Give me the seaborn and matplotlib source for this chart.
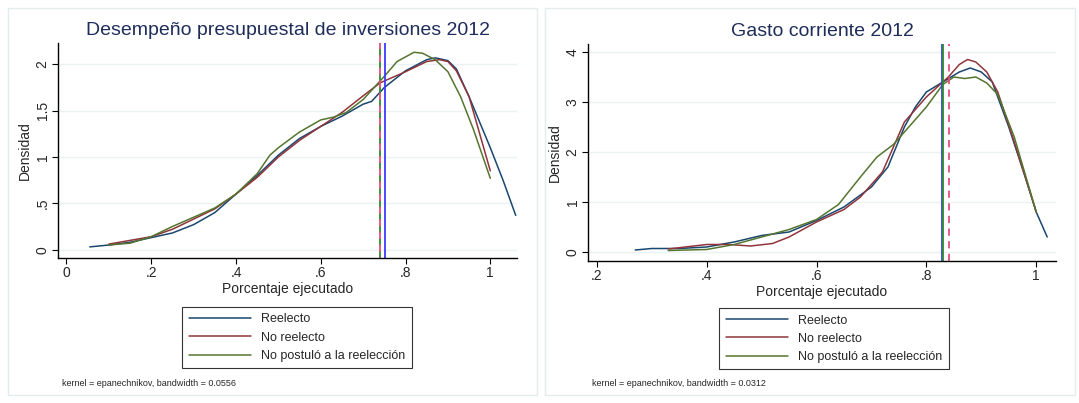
import matplotlib
matplotlib.use("Agg")
import matplotlib.pyplot as plt
import seaborn as sns
from matplotlib.patches import Rectangle

# left panel: inversiones
inv_reel_x = [.055, .1, .15, .2, .25, .3, .35, .4, .45, .5, .55, .6, .65, .7, .72, .75, .8, .85, .87, .9, .92, .95, 1.0, 1.03, 1.06]
inv_reel_y = [.03, .05, .08, .13, .18, .27, .4, .6, .8, 1.02, 1.2, 1.33, 1.44, 1.57, 1.6, 1.75, 1.93, 2.05, 2.07, 2.04, 1.95, 1.65, 1.1, .75, .37]
inv_no_x = [.1, .15, .2, .25, .3, .35, .4, .45, .5, .55, .6, .65, .7, .74, .8, .85, .88, .9, .92, .95, 1.0]
inv_no_y = [.06, .1, .14, .22, .33, .44, .6, .78, 1.0, 1.18, 1.33, 1.48, 1.66, 1.8, 1.92, 2.03, 2.05, 2.03, 1.93, 1.65, .85]
inv_np_x = [.1, .15, .2, .25, .3, .35, .4, .45, .48, .5, .55, .6, .63, .66, .7, .75, .78, .82, .84, .87, .9, .93, .96, 1.0]
inv_np_y = [.05, .07, .14, .25, .35, .45, .6, .82, 1.02, 1.1, 1.27, 1.4, 1.43, 1.48, 1.62, 1.87, 2.03, 2.13, 2.12, 2.05, 1.92, 1.65, 1.3, .77]
inv_means = {"reel": .752, "no": .740, "np": .740}

# right panel: gasto corriente
gc_reel_x = [.27, .3, .35, .4, .45, .5, .55, .6, .65, .7, .73, .76, .78, .8, .83, .86, .88, .9, .92, .95, .98, 1.0, 1.01, 1.02]
gc_reel_y = [.04, .07, .07, .1, .2, .33, .4, .63, .9, 1.3, 1.7, 2.5, 2.9, 3.2, 3.4, 3.6, 3.68, 3.6, 3.4, 2.5, 1.5, .8, .55, .3]
gc_no_x = [.33, .4, .44, .48, .52, .55, .6, .65, .68, .72, .76, .8, .84, .86, .875, .89, .91, .93, .96, 1.0]
gc_no_y = [.06, .15, .15, .12, .17, .3, .6, .85, 1.1, 1.6, 2.6, 3.1, 3.5, 3.75, 3.85, 3.8, 3.6, 3.2, 2.2, .8]
gc_np_x = [.33, .4, .45, .5, .55, .6, .64, .68, .71, .74, .76, .8, .83, .85, .87, .89, .91, .93, .96, 1.0]
gc_np_y = [.03, .05, .15, .3, .45, .65, .95, 1.5, 1.9, 2.15, 2.4, 2.9, 3.35, 3.5, 3.47, 3.5, 3.38, 3.15, 2.3, .8]
gc_means = {"reel": .829, "np": .831, "no": .841}

labels = ["Reelecto", "No reelecto", "No postuló a la reelección"]
colors = ["#1a476f", "#90353b", "#55752f"]

sns.set_style("white")
plt.rcParams["font.family"] = ["Liberation Sans", "DejaVu Sans"]

W, H = 1079, 403
fig = plt.figure(figsize=(W / 100, H / 100), dpi=100)

def frac(x0, y0, x1, y1):
    return [x0 / W, 1 - y1 / H, (x1 - x0) / W, (y1 - y0) / H]

# panel frames
for x0, x1 in [(8, 537), (545, 1075)]:
    fig.patches.append(Rectangle((x0 / W, 8 / H), (x1 - x0) / W, (H - 16) / H,
                                 transform=fig.transFigure, fill=False,
                                 edgecolor="#e4ecee", lw=1))

def panel(rect, series, title, xlim, ylim, xticks, xlabels, yticks, ylabels, vlines, legend_pos, note, note_pos):
    ax = fig.add_axes(frac(*rect))
    handles = []
    for (x, y), lab, c in zip(series, labels, colors):
        sns.lineplot(x=x, y=y, ax=ax, color=c, lw=1.1, label=lab, legend=False)
        handles.append(ax.lines[-1])
    for xv, c, ls in vlines:
        ax.axvline(xv, color=c, lw=1.3, ls=ls)
    ax.set_xlim(*xlim)
    ax.set_ylim(*ylim)
    ax.set_xticks(xticks)
    ax.set_xticklabels(xlabels, fontsize=10)
    ax.set_yticks(yticks)
    ax.set_yticklabels(ylabels, fontsize=10, rotation=90, va="center")
    for t in yticks:
        ax.axhline(t, color="#eaf2f3", lw=1, zorder=0)
    for s in ["top", "right"]:
        ax.spines[s].set_visible(False)
    for s in ["left", "bottom"]:
        ax.spines[s].set_color("black")
        ax.spines[s].set_linewidth(1)
    ax.tick_params(axis="both", length=4, color="black", direction="out", bottom=True, left=True, pad=2)
    ax.set_xlabel("Porcentaje ejecutado", fontsize=10, labelpad=1)
    ax.set_ylabel("Densidad", fontsize=10, labelpad=3)
    ax.set_title(title, fontsize=14, color="#1e2d5a", pad=6)
    leg = fig.legend(handles, labels, loc="upper left",
                     bbox_to_anchor=(legend_pos[0] / W, 1 - legend_pos[1] / H),
                     fontsize=9, frameon=True, fancybox=False, handlelength=5,
                     borderpad=0.5, labelspacing=0.5)
    leg.get_frame().set_edgecolor("black")
    leg.get_frame().set_linewidth(0.8)
    fig.text(note_pos[0] / W, 1 - note_pos[1] / H, note, fontsize=6.5, va="center")
    return ax

panel((58, 43, 517, 258),
      [(inv_reel_x, inv_reel_y), (inv_no_x, inv_no_y), (inv_np_x, inv_np_y)],
      "Desempeño presupuestal de inversiones 2012",
      (-0.02, 1.063), (-0.09, 2.23),
      [0, .2, .4, .6, .8, 1], ["0", ".2", ".4", ".6", ".8", "1"],
      [0, .5, 1, 1.5, 2], ["0", ".5", "1", "1.5", "2"],
      [(inv_means["reel"], "#3a3aff", "-"), (inv_means["no"], "#2e8b2e", (0, (4, 3))),
       (inv_means["np"], "#e0507a", (3.5, (4, 3)))],
      (176, 301), "kernel = epanechnikov, bandwidth = 0.0556", (62, 384))

panel((588, 44, 1056, 261),
      [(gc_reel_x, gc_reel_y), (gc_no_x, gc_no_y), (gc_np_x, gc_np_y)],
      "Gasto corriente 2012",
      (0.184, 1.036), (-0.18, 4.16),
      [.2, .4, .6, .8, 1], [".2", ".4", ".6", ".8", "1"],
      [0, 1, 2, 3, 4], ["0", "1", "2", "3", "4"],
      [(gc_means["reel"], "#3a3aff", "-"), (gc_means["np"], "#2e8b2e", "-"),
       (gc_means["no"], "#e0507a", (0, (4, 3)))],
      (713, 302), "kernel = epanechnikov, bandwidth = 0.0312", (592, 384))

fig.savefig("out.png", dpi=100)
